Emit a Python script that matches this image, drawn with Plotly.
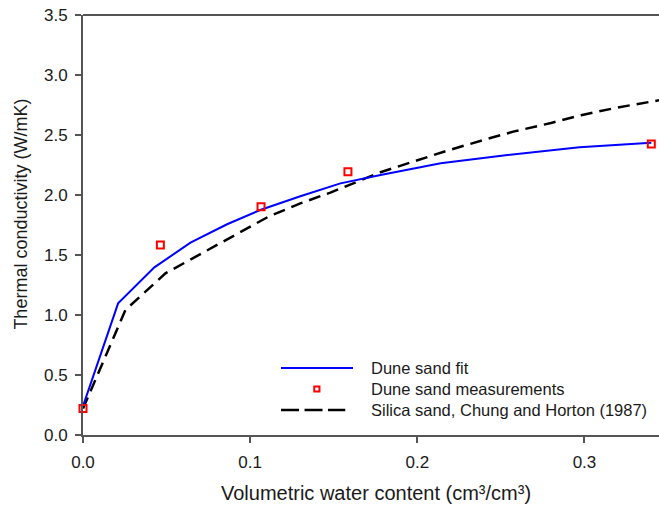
import plotly.graph_objects as go

# ---- data ----
fit_x = [0.0, 0.021, 0.0427, 0.0643, 0.0862, 0.106, 0.13, 0.154, 0.178, 0.214, 0.254, 0.297, 0.34]
fit_y = [0.24, 1.097, 1.397, 1.603, 1.756, 1.875, 1.99, 2.097, 2.167, 2.264, 2.333, 2.397, 2.436]

meas_x = [0.0, 0.0463, 0.1065, 0.1585, 0.340]
meas_y = [0.22, 1.583, 1.903, 2.194, 2.425]

chung_x = [0.0, 0.0254, 0.0493, 0.0712, 0.0911, 0.111, 0.13, 0.148, 0.178, 0.2, 0.218, 0.24, 0.258, 0.28, 0.298, 0.32, 0.345]
chung_y = [0.22, 1.042, 1.347, 1.514, 1.667, 1.82, 1.93, 2.02, 2.19, 2.29, 2.37, 2.46, 2.53, 2.60, 2.665, 2.73, 2.79]

x_ticks = [0.0, 0.1, 0.2, 0.3]
y_ticks = [0.0, 0.5, 1.0, 1.5, 2.0, 2.5, 3.0, 3.5]

legend_labels = ["Dune sand fit", "Dune sand measurements", "Silica sand, Chung and Horton (1987)"]
x_title = "Volumetric water content (cm³/cm³)"
y_title = "Thermal conductivity (W/mK)"

FONT = "Liberation Sans, Arial, sans-serif"
AXIS_COL = "#555555"
TXT_COL = "#1a1a1a"

fig = go.Figure()
fig.add_trace(go.Scatter(x=chung_x, y=chung_y, mode="lines",
                         line=dict(color="black", width=2.5, dash="12px,7px"),
                         showlegend=False))
fig.add_trace(go.Scatter(x=fit_x, y=fit_y, mode="lines",
                         line=dict(color="#0000ff", width=2),
                         showlegend=False))
fig.add_trace(go.Scatter(x=meas_x, y=meas_y, mode="markers",
                         marker=dict(symbol="square-open", size=7, color="#ff0000",
                                     line=dict(width=2, color="#ff0000")),
                         showlegend=False, cliponaxis=False))

# ---- manual legend (paper coordinates) ----
L_X0, L_X1 = 0.3438, 0.4687
TXT_X = 0.4970
rows = [0.1595, 0.1095, 0.0595]
fig.add_shape(type="line", xref="paper", yref="paper", x0=L_X0, x1=L_X1, y0=rows[0], y1=rows[0],
              line=dict(color="#0000ff", width=2))
fig.add_shape(type="line", xref="paper", yref="paper", x0=L_X0, x1=0.4553, y0=rows[2], y1=rows[2],
              line=dict(color="black", width=2.5, dash="18px,5.5px"))
fig.add_shape(type="rect", xref="paper", yref="paper",
              x0=0.406 - 0.0045, x1=0.406 + 0.0045, y0=rows[1] - 0.0062, y1=rows[1] + 0.0062,
              line=dict(color="#ff0000", width=2))
for lab, ry in zip(legend_labels, rows):
    fig.add_annotation(x=TXT_X, y=ry, xref="paper", yref="paper", text=lab, showarrow=False,
                       xanchor="left", yanchor="middle", font=dict(family=FONT, size=16.5, color=TXT_COL))

# axis titles
fig.add_annotation(x=0.509, y=-0.138, xref="paper", yref="paper", text=x_title, showarrow=False,
                   xanchor="center", yanchor="middle", font=dict(family=FONT, size=20, color=TXT_COL))
fig.add_annotation(x=-0.1067, y=0.526, xref="paper", yref="paper", text=y_title, showarrow=False,
                   textangle=-90, xanchor="center", yanchor="middle",
                   font=dict(family=FONT, size=18, color=TXT_COL))

# top border
fig.add_shape(type="line", xref="paper", yref="paper", x0=0, x1=1, y0=1, y1=1,
              line=dict(color=AXIS_COL, width=2))

fig.update_layout(
    width=659, height=508,
    margin=dict(l=82.5, r=0, t=15, b=73),
    paper_bgcolor="white", plot_bgcolor="white",
    font=dict(family=FONT, size=17, color=TXT_COL),
    showlegend=False,
    xaxis=dict(range=[0, 0.3446], tickvals=x_ticks, tickformat=".1f",
               showgrid=False, zeroline=False, showline=True, linecolor=AXIS_COL, linewidth=2,
               ticks="outside", ticklen=6, tickwidth=1.5, tickcolor=AXIS_COL,
               tickfont=dict(family=FONT, size=17, color=TXT_COL), ticklabelstandoff=5),
    yaxis=dict(range=[0, 3.5], tickvals=y_ticks, tickformat=".1f",
               showgrid=False, zeroline=False, showline=True, linecolor=AXIS_COL, linewidth=2,
               ticks="outside", ticklen=6, tickwidth=1.5, tickcolor=AXIS_COL,
               tickfont=dict(family=FONT, size=17, color=TXT_COL), ticklabelstandoff=4),
)

fig.write_html("out.html")
